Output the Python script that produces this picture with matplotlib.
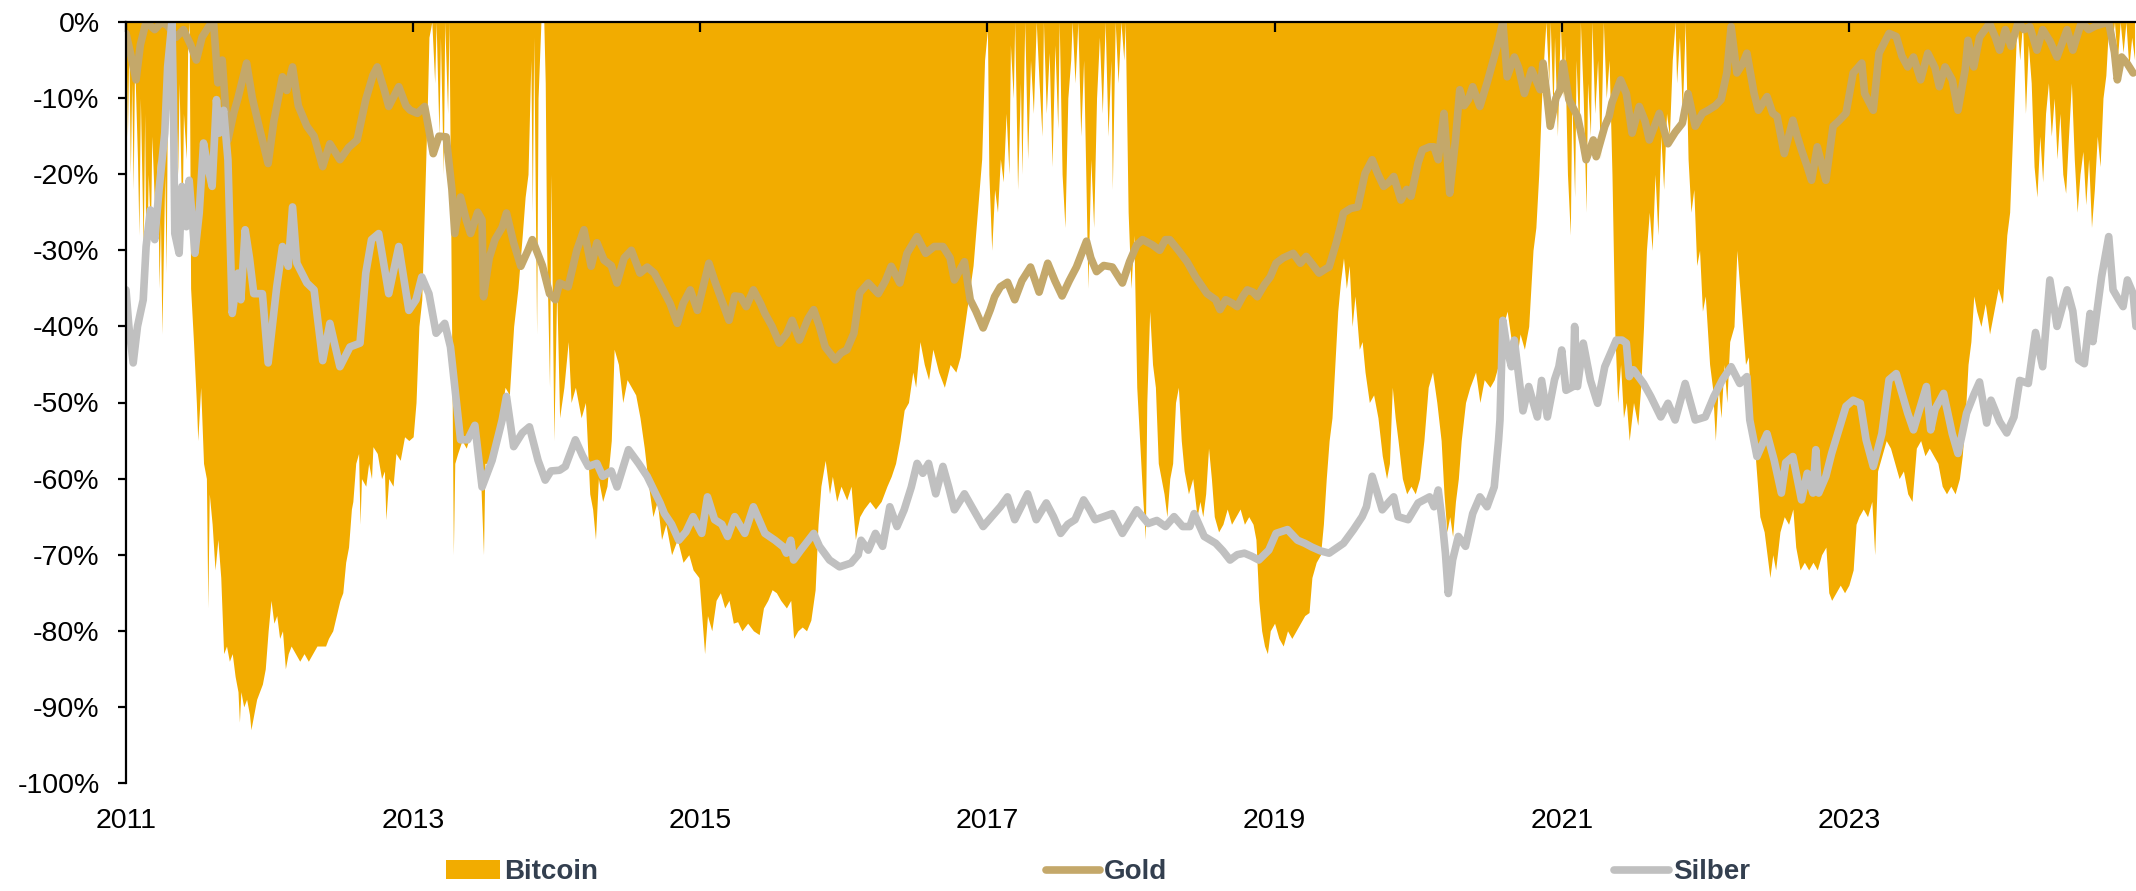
import matplotlib
matplotlib.use("Agg")
import matplotlib.pyplot as plt

plt.rcParams['font.family'] = ['Liberation Sans', 'DejaVu Sans']

# Drawdown in %, x = decimal years
btc_t = [
    2011.00, 2011.01, 2011.02, 2011.03, 2011.04, 2011.05, 2011.06, 2011.08, 2011.09, 2011.10,
    2011.12, 2011.13, 2011.14, 2011.155, 2011.17, 2011.18, 2011.20, 2011.22, 2011.23, 2011.24,
    2011.25, 2011.27, 2011.28, 2011.29, 2011.30, 2011.31, 2011.32, 2011.33, 2011.34, 2011.36,
    2011.37, 2011.39, 2011.40, 2011.42, 2011.43, 2011.44, 2011.45, 2011.47, 2011.49, 2011.50,
    2011.52, 2011.54, 2011.56, 2011.57, 2011.58, 2011.60, 2011.62, 2011.64, 2011.66, 2011.68,
    2011.70, 2011.72, 2011.74, 2011.76, 2011.78, 2011.79, 2011.80, 2011.82, 2011.84, 2011.86,
    2011.87, 2011.89, 2011.91, 2011.93, 2011.95, 2011.97, 2011.99, 2012.01, 2012.03, 2012.05,
    2012.07, 2012.09, 2012.11, 2012.13, 2012.15, 2012.18, 2012.21, 2012.24, 2012.27, 2012.30,
    2012.33, 2012.36, 2012.39, 2012.41, 2012.44, 2012.47, 2012.49, 2012.51, 2012.53, 2012.55,
    2012.57, 2012.58, 2012.60, 2012.62, 2012.63, 2012.64, 2012.67, 2012.69, 2012.71, 2012.72,
    2012.75, 2012.78, 2012.80, 2012.81, 2012.83, 2012.86, 2012.88, 2012.91, 2012.94, 2012.97,
    2013.00, 2013.02, 2013.04, 2013.06, 2013.08, 2013.10, 2013.11, 2013.13, 2013.15, 2013.16,
    2013.18, 2013.19, 2013.21, 2013.22, 2013.24, 2013.25, 2013.27, 2013.28, 2013.29, 2013.31,
    2013.34, 2013.37, 2013.40, 2013.43, 2013.46, 2013.49, 2013.50, 2013.53, 2013.56, 2013.59,
    2013.61, 2013.64, 2013.67, 2013.70, 2013.73, 2013.76, 2013.78, 2013.80, 2013.82, 2013.83,
    2013.84, 2013.86, 2013.87, 2013.89, 2013.91, 2013.92, 2013.93, 2013.95, 2013.96, 2013.98,
    2014.00, 2014.02, 2014.05, 2014.08, 2014.10, 2014.13, 2014.17, 2014.20, 2014.23, 2014.25,
    2014.27, 2014.29, 2014.32, 2014.35, 2014.38, 2014.40, 2014.43, 2014.46, 2014.49, 2014.52,
    2014.55, 2014.58, 2014.61, 2014.64, 2014.67, 2014.70, 2014.73, 2014.76, 2014.80, 2014.84,
    2014.88, 2014.92, 2014.95, 2014.99, 2015.03, 2015.05, 2015.08, 2015.11, 2015.14, 2015.17,
    2015.20, 2015.23, 2015.26, 2015.29, 2015.33, 2015.37, 2015.41, 2015.44, 2015.47, 2015.50,
    2015.53, 2015.56, 2015.60, 2015.63, 2015.65, 2015.68, 2015.71, 2015.74, 2015.77, 2015.80,
    2015.82, 2015.84, 2015.87, 2015.90, 2015.92, 2015.95, 2015.98, 2016.02, 2016.05, 2016.08,
    2016.11, 2016.14, 2016.18, 2016.22, 2016.26, 2016.30, 2016.33, 2016.36, 2016.39, 2016.42,
    2016.45, 2016.48, 2016.50, 2016.53, 2016.56, 2016.59, 2016.62, 2016.66, 2016.70, 2016.74,
    2016.78, 2016.81, 2016.84, 2016.87, 2016.90, 2016.93, 2016.96, 2016.98, 2017.00, 2017.01,
    2017.03, 2017.05, 2017.07, 2017.09, 2017.11, 2017.13, 2017.15, 2017.16, 2017.18, 2017.19,
    2017.21, 2017.23, 2017.24, 2017.26, 2017.28, 2017.30, 2017.32, 2017.34, 2017.36, 2017.38,
    2017.39, 2017.41, 2017.43, 2017.45, 2017.47, 2017.49, 2017.50, 2017.52, 2017.54, 2017.56,
    2017.58, 2017.59, 2017.61, 2017.63, 2017.65, 2017.67, 2017.69, 2017.70, 2017.72, 2017.74,
    2017.76, 2017.78, 2017.80, 2017.82, 2017.84, 2017.86, 2017.87, 2017.89, 2017.91, 2017.93,
    2017.95, 2017.96, 2017.98, 2018.00, 2018.02, 2018.04, 2018.06, 2018.08, 2018.10, 2018.11,
    2018.13, 2018.15, 2018.17, 2018.19, 2018.21, 2018.23, 2018.25, 2018.27, 2018.29, 2018.31,
    2018.33, 2018.35, 2018.37, 2018.40, 2018.43, 2018.46, 2018.48, 2018.50, 2018.52, 2018.54,
    2018.56, 2018.58, 2018.61, 2018.64, 2018.67, 2018.70, 2018.73, 2018.76, 2018.79, 2018.82,
    2018.85, 2018.87, 2018.89, 2018.91, 2018.93, 2018.95, 2018.97, 2019.00, 2019.03, 2019.06,
    2019.09, 2019.12, 2019.15, 2019.18, 2019.21, 2019.24, 2019.26, 2019.29, 2019.32, 2019.34,
    2019.36, 2019.38, 2019.40, 2019.42, 2019.44, 2019.46, 2019.48, 2019.50, 2019.52, 2019.54,
    2019.56, 2019.59, 2019.61, 2019.63, 2019.66, 2019.69, 2019.72, 2019.75, 2019.78, 2019.80,
    2019.82, 2019.84, 2019.86, 2019.89, 2019.92, 2019.95, 2019.98, 2020.01, 2020.04, 2020.07,
    2020.10, 2020.13, 2020.16, 2020.18, 2020.20, 2020.22, 2020.24, 2020.26, 2020.28, 2020.30,
    2020.33, 2020.36, 2020.40, 2020.43, 2020.46, 2020.50, 2020.53, 2020.56, 2020.59, 2020.62,
    2020.65, 2020.68, 2020.71, 2020.74, 2020.77, 2020.80, 2020.82, 2020.84, 2020.86, 2020.88,
    2020.89, 2020.91, 2020.92, 2020.94, 2020.95, 2020.97, 2020.99, 2021.01, 2021.02, 2021.04,
    2021.06, 2021.07, 2021.09, 2021.10, 2021.12, 2021.13, 2021.15, 2021.17, 2021.18, 2021.20,
    2021.21, 2021.23, 2021.25, 2021.27, 2021.29, 2021.31, 2021.33, 2021.35, 2021.37, 2021.39,
    2021.41, 2021.43, 2021.45, 2021.47, 2021.50, 2021.53, 2021.55, 2021.57, 2021.59, 2021.61,
    2021.63, 2021.65, 2021.67, 2021.69, 2021.71, 2021.73, 2021.75, 2021.77, 2021.79, 2021.80,
    2021.82, 2021.84, 2021.86, 2021.88, 2021.90, 2021.92, 2021.94, 2021.96, 2021.98, 2022.00,
    2022.03, 2022.05, 2022.07, 2022.09, 2022.11, 2022.13, 2022.15, 2022.17, 2022.20, 2022.22,
    2022.24, 2022.26, 2022.28, 2022.30, 2022.32, 2022.34, 2022.36, 2022.38, 2022.41, 2022.43,
    2022.45, 2022.47, 2022.49, 2022.52, 2022.55, 2022.58, 2022.61, 2022.63, 2022.66, 2022.69,
    2022.72, 2022.75, 2022.78, 2022.81, 2022.84, 2022.86, 2022.88, 2022.91, 2022.94, 2022.97,
    2023.00, 2023.03, 2023.05, 2023.07, 2023.10, 2023.13, 2023.16, 2023.18, 2023.20, 2023.23,
    2023.26, 2023.29, 2023.32, 2023.35, 2023.38, 2023.41, 2023.44, 2023.47, 2023.50, 2023.53,
    2023.56, 2023.59, 2023.62, 2023.65, 2023.68, 2023.71, 2023.74, 2023.77, 2023.79, 2023.81,
    2023.83, 2023.85, 2023.87, 2023.89, 2023.92, 2023.95, 2023.98, 2024.01, 2024.04, 2024.07,
    2024.10, 2024.12, 2024.14, 2024.16, 2024.17, 2024.19, 2024.21, 2024.23, 2024.25, 2024.27,
    2024.29, 2024.31, 2024.33, 2024.35, 2024.37, 2024.39, 2024.41, 2024.43, 2024.45, 2024.47,
    2024.49, 2024.51, 2024.53, 2024.55, 2024.57, 2024.59, 2024.61, 2024.63, 2024.65, 2024.67,
    2024.69, 2024.71, 2024.73, 2024.75, 2024.77, 2024.79, 2024.81, 2024.83, 2024.85, 2024.87,
    2024.89, 2024.91, 2024.93, 2024.95, 2024.97, 2024.99,
]
btc_dd = [
    -2, -15, -3, -20, -8, -22, -5, -18, -28, -10,
    -30, -12, -36, -20, -28, -15, -25, -18, -35, -26,
    -41, -20, -33, -5, 0, -8, 0, -15, -5, -20,
    -8, -28, -12, -18, -3, 0, -35, -42, -50, -55,
    -48, -58, -60, -77, -62, -66, -72, -68, -73, -83,
    -82, -84, -83, -86, -88, -92, -88, -90, -89, -91,
    -93, -91, -89, -88, -87, -85, -80, -76, -79, -78,
    -81, -80, -85, -83, -82, -83, -84, -83, -84, -83,
    -82, -82, -82, -81, -80, -77.6, -76, -75, -71, -69,
    -64, -63, -58, -56.7, -66, -60, -61, -58, -60, -55.8,
    -56.7, -60, -59, -65.4, -60, -61, -56.7, -57.6, -54.5, -55,
    -54.5, -50, -40, -36.5, -23.4, -10, -2, 0, -8, 0,
    -15, -2, -20, 0, -12, 0, -45, -70, -58, -56.7,
    -55, -56, -54, -55, -55, -70, -58, -58, -56, -55,
    -52, -48, -49, -40, -35, -28, -23, -20, -5, -25,
    -2, -41, -10, 0, 0, -8, -30, -48, -20, -55,
    -35, -52, -48, -42, -50, -48, -52, -50, -62, -64,
    -68, -60, -63, -61, -55, -43, -45, -50, -47, -48,
    -49, -52, -56, -61, -65, -63, -68, -66, -70, -68,
    -71, -70, -72, -73, -83, -78, -80, -76, -75, -77,
    -76, -79, -78.8, -80, -79, -80, -80.5, -77, -76, -74.6,
    -75, -76, -77, -76, -81, -80, -79.5, -80, -78.6, -74.6,
    -66, -61, -57.6, -62, -59.7, -63, -61, -62.8, -61, -68,
    -65, -64, -63, -64, -63, -61, -59.7, -58, -55, -51,
    -50, -46, -48, -42, -45, -47, -43, -46, -48, -45,
    -46, -44, -40, -36, -32, -25, -18, -5, -1, -20,
    -30, -22, -25, -18, -21, -12, -20, -3, -10, 0,
    -22, -8, -20, 0, -18, -5, -12, 0, -8, -15,
    0, -12, -4, -19, -3, -14, 0, -20, -27, -10,
    -5, 0, -8, 0, -15, -5, -25, -35, -18, -27,
    -10, -2, -12, 0, -15, -5, -22, 0, -8, 0,
    -5, 0, -25, -35, -28, -48, -55, -62, -68, -50,
    -38, -45, -48, -58, -60, -62, -65, -60, -58, -50,
    -48, -55, -59, -62, -60, -65, -63, -65, -62, -56,
    -60, -65, -67, -66, -64, -66, -65, -64, -66, -65,
    -66, -68, -76, -80, -82, -83, -80, -79, -81, -82,
    -80, -81, -80, -79, -78, -77.6, -73, -71, -70, -66,
    -60, -55, -52, -45, -38, -34, -31, -35, -32, -40,
    -36, -43, -42, -46, -50, -49, -52, -57, -60, -58,
    -48, -52, -55, -60, -62, -61, -62, -60, -55, -48,
    -46, -50, -55, -62, -67, -65, -67.6, -63, -60, -55,
    -50, -48, -46, -50, -47, -48, -47, -45, -40, -38,
    -42, -45, -41, -43, -40, -30, -27, -20, -10, -3,
    0, -8, 0, -12, -2, -15, 0, -10, -3, -20,
    -28, -10, -23, -5, -15, 0, -10, -25, -8, -15,
    0, -12, -5, -18, 0, -10, -5, -20, -41, -50,
    -45, -52, -50, -55, -50, -53, -48, -40, -30, -25,
    -30, -20, -28, -15, -22, -12, -15, -5, 0, -8,
    -2, -12, 0, -18, -25, -22, -32, -30, -38, -36,
    -45, -48, -55, -48, -52, -45, -50, -42, -40, -30,
    -35, -40, -45, -44, -52, -55, -60, -65, -67, -70,
    -73, -70, -72, -67, -65, -66, -64, -69, -72, -71,
    -72, -71, -72, -70, -69, -75, -76, -75, -74, -75,
    -74, -72, -66, -65, -64, -65, -63, -70, -59, -57,
    -55, -56, -58, -60, -59, -62, -63, -56, -55, -57,
    -56, -57, -58, -61, -62, -61, -62, -60, -57, -52,
    -45, -42, -36, -38, -40, -37, -41, -38, -35, -37,
    -28, -25, -15, -5, 0, -5, 0, -12, -3, -8,
    -19, -23, -15, -21, -12, -8, -15, -10, -18, -12,
    -20, -22.5, -15, -8, -18, -25, -20, -17, -24, -18,
    -27, -22, -15, -19, -10, -7, 0, -3, 0, -5,
    0, -4, 0, -6, -2, -5,
]

gold_t = [
    2011.00, 2011.03, 2011.07, 2011.10, 2011.14, 2011.20, 2011.25, 2011.29, 2011.35, 2011.40,
    2011.45, 2011.49, 2011.53, 2011.58, 2011.61, 2011.64, 2011.67, 2011.71, 2011.75, 2011.78,
    2011.84, 2011.88, 2011.93, 2011.99, 2012.03, 2012.09, 2012.12, 2012.16, 2012.20, 2012.26,
    2012.31, 2012.37, 2012.42, 2012.49, 2012.55, 2012.61, 2012.67, 2012.72, 2012.75, 2012.80,
    2012.83, 2012.90, 2012.95, 2012.98, 2013.03, 2013.08, 2013.14, 2013.18, 2013.23, 2013.27,
    2013.29, 2013.33, 2013.37, 2013.40, 2013.45, 2013.48, 2013.49, 2013.53, 2013.57, 2013.62,
    2013.65, 2013.70, 2013.75, 2013.80, 2013.83, 2013.90, 2013.95, 2013.99, 2014.02, 2014.08,
    2014.14, 2014.19, 2014.24, 2014.28, 2014.33, 2014.38, 2014.42, 2014.47, 2014.52, 2014.58,
    2014.63, 2014.68, 2014.73, 2014.79, 2014.84, 2014.88, 2014.93, 2014.98, 2015.06, 2015.10,
    2015.13, 2015.20, 2015.24, 2015.28, 2015.32, 2015.37, 2015.42, 2015.45, 2015.50, 2015.55,
    2015.60, 2015.64, 2015.69, 2015.75, 2015.79, 2015.83, 2015.87, 2015.94, 2015.98, 2016.02,
    2016.07, 2016.11, 2016.17, 2016.24, 2016.29, 2016.33, 2016.39, 2016.44, 2016.51, 2016.57,
    2016.63, 2016.69, 2016.74, 2016.77, 2016.84, 2016.88, 2016.92, 2016.97, 2017.02, 2017.05,
    2017.09, 2017.14, 2017.19, 2017.24, 2017.30, 2017.36, 2017.42, 2017.47, 2017.52, 2017.57,
    2017.62, 2017.69, 2017.72, 2017.76, 2017.81, 2017.87, 2017.94, 2017.99, 2018.04, 2018.08,
    2018.15, 2018.20, 2018.24, 2018.27, 2018.33, 2018.39, 2018.45, 2018.53, 2018.59, 2018.62,
    2018.66, 2018.71, 2018.74, 2018.78, 2018.81, 2018.85, 2018.88, 2018.93, 2018.97, 2019.01,
    2019.06, 2019.13, 2019.18, 2019.22, 2019.27, 2019.31, 2019.36, 2019.38, 2019.43, 2019.46,
    2019.48, 2019.53, 2019.58, 2019.63, 2019.68, 2019.72, 2019.76, 2019.80, 2019.83, 2019.88,
    2019.92, 2019.95, 2020.00, 2020.03, 2020.08, 2020.11, 2020.14, 2020.18, 2020.20, 2020.22,
    2020.26, 2020.29, 2020.32, 2020.35, 2020.38, 2020.43, 2020.48, 2020.53, 2020.56, 2020.59,
    2020.62, 2020.67, 2020.70, 2020.74, 2020.79, 2020.83, 2020.85, 2020.87, 2020.90, 2020.92,
    2020.96, 2020.99, 2021.01, 2021.05, 2021.11, 2021.15, 2021.17, 2021.22, 2021.24, 2021.30,
    2021.33, 2021.35, 2021.41, 2021.45, 2021.49, 2021.54, 2021.58, 2021.61, 2021.68, 2021.74,
    2021.79, 2021.84, 2021.88, 2021.93, 2021.98, 2022.02, 2022.07, 2022.11, 2022.15, 2022.18,
    2022.22, 2022.26, 2022.29, 2022.34, 2022.37, 2022.43, 2022.47, 2022.50, 2022.55, 2022.61,
    2022.64, 2022.67, 2022.71, 2022.74, 2022.78, 2022.84, 2022.89, 2022.93, 2022.98, 2023.03,
    2023.09, 2023.11, 2023.17, 2023.21, 2023.28, 2023.33, 2023.37, 2023.41, 2023.45, 2023.50,
    2023.55, 2023.60, 2023.63, 2023.67, 2023.72, 2023.76, 2023.81, 2023.83, 2023.87, 2023.91,
    2023.98, 2024.02, 2024.05, 2024.09, 2024.13, 2024.18, 2024.22, 2024.26, 2024.31, 2024.35,
    2024.40, 2024.45, 2024.52, 2024.56, 2024.62, 2024.67, 2024.72, 2024.81, 2024.85, 2024.87,
    2024.90, 2024.94, 2024.98,
]
gold_dd = [
    -1.5, -4, -7.6, -3, 0, -1, 0, -0.5, -2, -1,
    -3, -5, -2, -0.5, 0, -8, -5, -15.5, -12, -10,
    -5.4, -10, -14, -18.6, -13, -7.2, -9, -5.9, -11, -13.7,
    -15, -19, -16, -18.1, -16.5, -15.5, -10.2, -7, -5.9, -9,
    -11.1, -8.5, -11, -11.6, -12, -11.1, -17.3, -15, -15.1, -22,
    -27.8, -23, -26, -27.8, -25, -26, -36.1, -31, -28.6, -27,
    -25.1, -29, -32.1, -30, -28.6, -32, -35.7, -36.5, -34.3, -34.8,
    -30, -27.3, -32.1, -29, -31.3, -32, -34.3, -31, -30, -33,
    -32.2, -33, -34.8, -37, -39.6, -37, -35.2, -37.9, -31.7, -34,
    -35.6, -39.2, -36, -36.1, -37.4, -35.2, -37, -38.3, -40, -42.2,
    -41, -39.2, -41.8, -39, -37.8, -40, -42.7, -44.4, -43.5, -43.1,
    -40.9, -35.6, -34.3, -35.7, -34, -32.1, -34.3, -30.4, -28.2, -30.4,
    -29.5, -29.5, -31, -33.9, -31.5, -36.5, -38, -40.2, -37.8, -36.1,
    -34.8, -34.2, -36.5, -34, -32.2, -35.5, -31.7, -34, -36, -34,
    -32.2, -28.8, -31, -32.8, -32, -32.2, -34.3, -31.5, -29.3, -28.6,
    -29.3, -30, -28.6, -28.6, -30, -31.5, -33.5, -35.7, -36.5, -37.8,
    -36.5, -37, -37.4, -36, -35.2, -35.5, -36.1, -34.5, -33.5, -31.7,
    -31, -30.4, -31.7, -30.8, -32, -33, -32.4, -32.2, -29, -26.8,
    -25.1, -24.5, -24.3, -19.9, -18.1, -20, -21.6, -21, -20.3, -23.4,
    -22, -22.9, -18.5, -16.8, -16.4, -16.4, -18.1, -12, -17, -22.5,
    -15.5, -8.9, -11, -10.2, -8.5, -11.1, -8, -4.6, -2.5, 0,
    -7.2, -4.6, -6, -9.4, -6.3, -8, -8.9, -5.4, -10.2, -13.7,
    -10, -8.9, -5.4, -10.2, -12.4, -16, -18.1, -15.5, -17.7, -13.7,
    -12.4, -10.6, -7.6, -9.4, -14.6, -11.1, -13, -15.5, -12, -16,
    -14.5, -13.3, -9.4, -13.7, -12, -11.6, -11, -10.2, -6.7, -0.6,
    -6.7, -5.5, -4.1, -9.4, -11.6, -9.8, -12, -12.4, -17.3, -12.9,
    -15, -16.8, -19, -20.8, -16.4, -20.8, -13.7, -13, -12, -6.7,
    -5.4, -9.4, -11.6, -4.1, -1.5, -1.9, -4.5, -5.9, -4.6, -7.6,
    -4.1, -6, -8.5, -5.9, -7.6, -11.6, -6.3, -2.4, -5.9, -2,
    -0.2, -2, -3.7, -1, -3.2, 0, -1, -0.6, -3.7, -1,
    -2.5, -4.6, -1, -3.7, 0, -1, -0.5, 0, -4, -7.6,
    -4.6, -5.5, -6.7,
]

silver_t = [
    2011.00, 2011.02, 2011.05, 2011.08, 2011.12, 2011.14, 2011.17, 2011.20, 2011.23, 2011.27,
    2011.29, 2011.32, 2011.33, 2011.34, 2011.37, 2011.39, 2011.42, 2011.44, 2011.48, 2011.51,
    2011.54, 2011.57, 2011.60, 2011.63, 2011.65, 2011.68, 2011.71, 2011.74, 2011.78, 2011.80,
    2011.83, 2011.86, 2011.89, 2011.95, 2011.99, 2012.05, 2012.09, 2012.13, 2012.16, 2012.19,
    2012.26, 2012.31, 2012.37, 2012.42, 2012.49, 2012.56, 2012.63, 2012.67, 2012.71, 2012.76,
    2012.83, 2012.90, 2012.97, 2013.02, 2013.06, 2013.11, 2013.16, 2013.22, 2013.26, 2013.30,
    2013.33, 2013.38, 2013.43, 2013.48, 2013.55, 2013.62, 2013.65, 2013.70, 2013.76, 2013.81,
    2013.87, 2013.92, 2013.96, 2014.02, 2014.06, 2014.13, 2014.18, 2014.22, 2014.28, 2014.32,
    2014.38, 2014.42, 2014.50, 2014.57, 2014.63, 2014.72, 2014.75, 2014.80, 2014.85, 2014.90,
    2014.95, 2015.01, 2015.05, 2015.10, 2015.15, 2015.19, 2015.24, 2015.31, 2015.37, 2015.45,
    2015.52, 2015.58, 2015.60, 2015.63, 2015.65, 2015.70, 2015.79, 2015.83, 2015.90, 2015.97,
    2016.05, 2016.10, 2016.12, 2016.17, 2016.22, 2016.27, 2016.32, 2016.37, 2016.42, 2016.47,
    2016.51, 2016.55, 2016.59, 2016.64, 2016.69, 2016.73, 2016.77, 2016.84, 2016.90, 2016.97,
    2017.03, 2017.09, 2017.14, 2017.19, 2017.28, 2017.34, 2017.41, 2017.46, 2017.51, 2017.56,
    2017.61, 2017.67, 2017.71, 2017.75, 2017.81, 2017.87, 2017.94, 2018.04, 2018.12, 2018.18,
    2018.24, 2018.30, 2018.36, 2018.41, 2018.44, 2018.51, 2018.59, 2018.64, 2018.69, 2018.74,
    2018.79, 2018.84, 2018.89, 2018.96, 2019.01, 2019.09, 2019.16, 2019.21, 2019.26, 2019.32,
    2019.38, 2019.48, 2019.55, 2019.61, 2019.64, 2019.68, 2019.75, 2019.80, 2019.83, 2019.86,
    2019.93, 2020.00, 2020.08, 2020.11, 2020.14, 2020.17, 2020.19, 2020.21, 2020.24, 2020.28,
    2020.33, 2020.38, 2020.43, 2020.48, 2020.53, 2020.56, 2020.57, 2020.59, 2020.62, 2020.65,
    2020.67, 2020.73, 2020.77, 2020.83, 2020.86, 2020.90, 2020.95, 2020.98, 2021.00, 2021.03,
    2021.08, 2021.09, 2021.11, 2021.15, 2021.20, 2021.25, 2021.30, 2021.38, 2021.42, 2021.45,
    2021.47, 2021.50, 2021.57, 2021.62, 2021.69, 2021.74, 2021.79, 2021.86, 2021.93, 2022.00,
    2022.06, 2022.12, 2022.18, 2022.24, 2022.29, 2022.31, 2022.36, 2022.43, 2022.48, 2022.53,
    2022.56, 2022.61, 2022.67, 2022.71, 2022.75, 2022.77, 2022.79, 2022.84, 2022.88, 2022.93,
    2022.98, 2023.03, 2023.08, 2023.12, 2023.17, 2023.23, 2023.28, 2023.33, 2023.41, 2023.45,
    2023.54, 2023.57, 2023.60, 2023.66, 2023.72, 2023.76, 2023.79, 2023.82, 2023.87, 2023.91,
    2023.96, 2023.99, 2024.05, 2024.10, 2024.15, 2024.19, 2024.25, 2024.30, 2024.35, 2024.40,
    2024.45, 2024.52, 2024.56, 2024.60, 2024.64, 2024.68, 2024.70, 2024.76, 2024.81, 2024.84,
    2024.88, 2024.91, 2024.94, 2024.98, 2025.00,
]
silver_dd = [
    -35.2, -40, -44.8, -40, -36.5, -29.5, -24.7, -28.6, -22.1, -14.6,
    -5.9, 0, -10.2, -27.8, -30.4, -21.6, -26.9, -20.8, -30.4, -25.1,
    -15.9, -19, -21.6, -10.2, -14.6, -11.6, -18.1, -38.3, -33, -36.5,
    -27.3, -31, -35.7, -35.7, -44.8, -34.8, -29.5, -32.1, -24.3, -31.7,
    -34.3, -35.2, -44.5, -39.6, -45.3, -42.7, -42.2, -33, -28.6, -27.8,
    -35.7, -29.5, -37.9, -36.5, -33.5, -35.7, -40.9, -39.6, -42.7, -49.7,
    -54.9, -54.9, -53, -61.1, -57.6, -52.3, -49.2, -55.8, -54, -53.2,
    -57.6, -60.2, -59, -58.9, -58.4, -54.9, -57, -58.4, -58, -59.7,
    -59, -61.1, -56.2, -58, -59.7, -63.2, -64.6, -66, -68.1, -67,
    -65, -67.2, -62.4, -65.4, -66, -67.6, -65, -67.2, -63.7, -67.2,
    -68.1, -69, -69.8, -68.1, -70.7, -69.4, -67.2, -68.9, -70.7, -71.6,
    -71.1, -70, -68.1, -69.4, -67.2, -68.9, -63.7, -66.3, -64.1, -61.1,
    -58, -59.3, -58, -62, -58.4, -61.1, -64.1, -62, -64, -66.3,
    -65, -63.7, -62.4, -65.4, -62, -65.4, -63.2, -65, -67.2, -66,
    -65.4, -62.8, -64, -65.4, -65, -64.6, -67.2, -64.1, -65.9, -65.5,
    -66.3, -65, -66.3, -66.3, -64.6, -67.6, -68.5, -69.5, -70.7, -70,
    -69.8, -70.2, -70.7, -69.4, -67.2, -66.7, -68.1, -68.5, -69, -69.5,
    -69.8, -68.5, -66.7, -65, -63.7, -59.7, -64.1, -63, -62.4, -65,
    -65.4, -63.2, -62.4, -63.7, -61.5, -66, -69.8, -75.1, -70.7, -67.6,
    -68.9, -64.6, -62.4, -63.7, -61.1, -55, -52.3, -39.2, -43, -45.3,
    -41.8, -51.1, -47.9, -51.9, -47.1, -51.9, -47, -45.3, -43.1, -48.4,
    -47.9, -40, -47.9, -42.2, -47.1, -50.1, -45.3, -41.8, -41.8, -42.2,
    -46.6, -45.7, -47.5, -49.2, -51.9, -50.1, -52.3, -47.5, -52.3, -51.9,
    -49.2, -47, -45.3, -47.5, -46.6, -52.3, -57.1, -54.1, -57.6, -61.9,
    -57.9, -57.1, -62.8, -59.3, -61.9, -56.2, -61.9, -59.7, -56.7, -53.6,
    -50.5, -49.7, -50.1, -54.9, -58.4, -54.1, -47, -46.2, -51.4, -53.6,
    -47.9, -53.6, -50.9, -48.8, -54.1, -56.7, -54.1, -51.4, -49, -47.3,
    -52.7, -49.7, -52.5, -54, -51.9, -47.1, -47.5, -40.8, -45.3, -33.9,
    -40, -35.2, -38, -44.4, -44.9, -38.3, -42, -33.5, -28.2, -35.2,
    -36.5, -37.4, -33.9, -35.7, -40,
]

year_ticks = [2011, 2013, 2015, 2017, 2019, 2021, 2023]
pct_ticks = list(range(-100, 1, 10))

btc_color = '#F2AC00'
gold_color = '#C4A86A'
silver_color = '#C0C0C0'

fig = plt.figure(figsize=(21.36, 8.91), dpi=100)
ax = fig.add_axes([126 / 2136, 1 - 783 / 891, 1 - 126 / 2136, (783 - 22) / 891])

ax.fill_between(btc_t, btc_dd, 0, color=btc_color, linewidth=0, label='Bitcoin', zorder=1)
ax.plot(gold_t, gold_dd, color=gold_color, lw=5.5, solid_joinstyle='round',
        solid_capstyle='round', label='Gold', zorder=2)
ax.plot(silver_t, silver_dd, color=silver_color, lw=5.5, solid_joinstyle='round',
        solid_capstyle='round', label='Silber', zorder=3)

ax.set_xlim(2011, 2025)
ax.set_ylim(-100, 0)

ax.set_xticks(year_ticks)
ax.set_xticklabels([str(y) for y in year_ticks])
ax.set_yticks(pct_ticks)
ax.set_yticklabels([f"{v}%" for v in pct_ticks])

for side in ['right', 'bottom']:
    ax.spines[side].set_visible(False)
for side in ['left', 'top']:
    ax.spines[side].set_linewidth(1.6)
    ax.spines[side].set_zorder(5)

ax.tick_params(axis='x', bottom=False, top=True, direction='in', length=7, width=1.6,
               labelbottom=True, labeltop=False, pad=18, labelsize=20.5)
ax.tick_params(axis='y', direction='out', length=6, width=1.6, pad=13, labelsize=20.5)

fig.legend(loc='center', bbox_to_anchor=(0.514, 0.021), ncol=3, frameon=False,
           prop={'weight': 'bold', 'size': 20}, labelcolor='#333F4F',
           handlelength=1.95, handleheight=0.7, handletextpad=0.15, columnspacing=16.1)

fig.savefig('out.png', dpi=100)
